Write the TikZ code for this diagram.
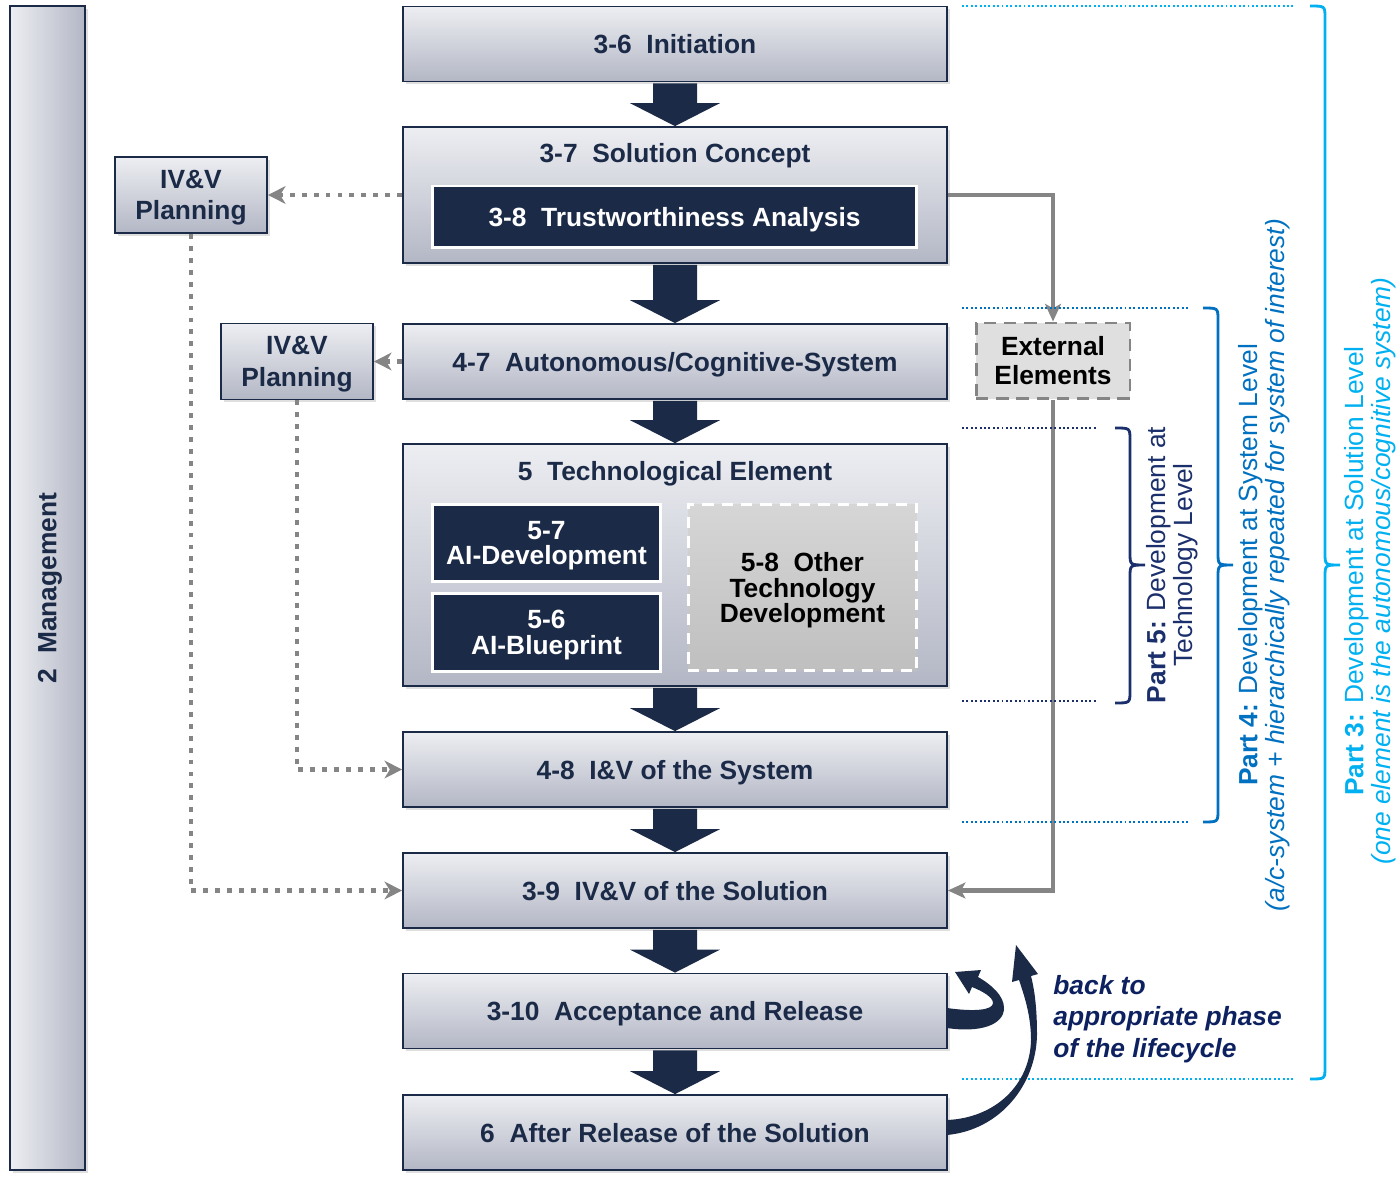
\documentclass[tikz,border=0pt]{standalone}
\usepackage{fontspec}
\setmainfont{Liberation Sans}
\usetikzlibrary{arrows.meta,calc,shadows}

\definecolor{navy}{HTML}{1B2A47}
\definecolor{boxtop}{HTML}{EDEEF2}
\definecolor{boxbot}{HTML}{B3B7C5}
\definecolor{othertop}{HTML}{D6D6D6}
\definecolor{otherbot}{HTML}{BFBFBF}
\definecolor{extfill}{HTML}{DFDFDF}
\definecolor{linegray}{HTML}{858585}
\definecolor{partc}{HTML}{00B0F0}
\definecolor{partb}{HTML}{0070C0}
\definecolor{parta}{HTML}{1A2F6B}
\definecolor{backblue}{HTML}{0D2160}

\tikzset{
  phase/.style={draw=navy, line width=1pt, top color=boxtop, bottom color=boxbot,
    text=navy, font=\bfseries\fontsize{15}{18}\selectfont, align=center,
    minimum width=10.88cm, minimum height=1.5cm, inner sep=0pt, text depth=0pt,
    drop shadow={shadow xshift=1.6pt, shadow yshift=-1.6pt, opacity=0.25}},
  planbox/.style={phase, minimum width=3.04cm, minimum height=1.52cm},
  mgmtbar/.style={draw=navy, line width=1pt, left color=boxtop, right color=boxbot,
    minimum width=1.5cm, minimum height=23.28cm, inner sep=0pt,
    drop shadow={shadow xshift=1.6pt, shadow yshift=-1.6pt, opacity=0.25}},
  innerbox/.style={draw=white, line width=1.7pt, fill=navy, text=white,
    font=\bfseries\fontsize{15}{14.5}\selectfont, align=center, inner sep=0pt,
    text depth=0pt, minimum width=4.58cm, minimum height=1.55cm},
  otherbox/.style={draw=white, line width=1.7pt, dash pattern=on 6.5pt off 4.5pt,
    top color=othertop, bottom color=otherbot, text=black,
    font=\bfseries\fontsize{15}{14.5}\selectfont, align=center, inner sep=0pt,
    text depth=0pt, minimum width=4.58cm, minimum height=3.34cm},
  extbox/.style={draw=linegray, line width=1.7pt, dash pattern=on 7pt off 4.5pt,
    fill=extfill, text=black, font=\bfseries\fontsize{15}{16.5}\selectfont,
    align=center, inner sep=0pt, minimum width=3.08cm, minimum height=1.52cm},
  titletext/.style={text=navy, font=\bfseries\fontsize{15}{18}\selectfont, inner sep=0pt},
  parttext/.style={rotate=90, align=center, font=\fontsize{15}{15.4}\selectfont, inner sep=0pt},
  backtext/.style={align=left, text=backblue, font=\bfseries\itshape\fontsize{15}{18.1}\selectfont,
    inner sep=0pt},
  guide/.style={line width=1.1pt, dash pattern=on 1.1pt off 1.4pt},
  bracelines/.style={line width=1.6pt},
  ivvline/.style={draw=linegray, line width=2.8pt, dash pattern=on 2.8pt off 4pt,
    -{Stealth[length=10pt, width=10pt, inset=3pt]}},
  extline/.style={draw=linegray, line width=2.8pt,
    -{Stealth[length=10pt, width=9pt, inset=2.5pt]}},
}

\begin{document}
\begin{tikzpicture}[x=0.02cm, y=-0.02cm]
  \useasboundingbox (0,0) rectangle (1396,1182);
  %
  \node[mgmtbar] (mgmt) at (47.5,588) {};                 % management bar
  \node[titletext, rotate=90] (mgmtlabel) at (50,588) {2~~Management};
  %
  \node[phase] (init) at (675,44) {3-6~~Initiation};     % main column
  \node[phase, minimum height=2.72cm] (concept) at (675,195) {};
  \node[titletext] (concepttitle) at (675,156) {3-7~~Solution Concept};
  \node[innerbox, minimum width=9.7cm, minimum height=1.24cm] (trust) at (674.5,217)
    {3-8~~Trustworthiness Analysis};
  \node[phase] (acs) at (675,361.5) {4-7~~Autonomous/Cognitive-System};
  %
  \node[phase, minimum height=4.84cm] (tech) at (675,565) {};   % technology
  \node[titletext] (techtitle) at (675,474) {5~~Technological Element};
  \node[innerbox] (aidev) at (546.5,543) {5-7\\AI-Development};
  \node[innerbox] (aiblue) at (546.5,632.5) {5-6\\AI-Blueprint};
  \node[otherbox] (othertech) at (802.5,587.5) {5-8~~Other\\Technology\\Development};
  %
  \node[phase] (ivsys) at (675,769.5) {4-8~~I\&V of the System};
  \node[phase] (ivsol) at (675,890.5) {3-9~~IV\&V of the Solution};
  \node[phase] (accept) at (675,1011) {3-10~~Acceptance and Release};
  \node[phase] (after) at (675,1132.5) {6~~After Release of the Solution};
  %
  \node[planbox] (plan1) at (191,195) {IV\&V\\Planning};   % planning
  \node[planbox] (plan2) at (297,361.5) {IV\&V\\Planning};
  \node[extbox] (ext) at (1053,361) {External\\Elements};
  %
  \foreach \a/\b in {init/concept, concept/acs, acs/tech, tech/ivsys,
                     ivsys/ivsol, ivsol/accept, accept/after}
    \fill[navy] ($(\a.south)+(-22,1)$) -- ($(\a.south)+(22,1)$) -- ($(\b.north)+(22,-23)$)
      -- ($(\b.north)+(45,-23)$) -- (\b.north) -- ($(\b.north)+(-45,-23)$)
      -- ($(\b.north)+(-22,-23)$) -- cycle;
  %
  \draw[ivvline] (concept.west) -- (plan1.east);          % IV&V links
  \draw[ivvline] (acs.west) -- (plan2.east);
  \draw[ivvline] (plan1.south) |- (ivsol.west);
  \draw[ivvline] (plan2.south) |- (ivsys.west);
  %
  \draw[extline] (concept.east) -| (ext.north);           % external elements
  \draw[extline] (ext.south) |- (ivsol.east);
  %
  \foreach \y/\xb/\c in {6/1295/partc, 1079/1295/partc, 308/1188/partb,
                         822/1188/partb, 428/1097/parta, 701/1097/parta}
    \draw[guide, \c] (962,\y) -- (\xb,\y);
  %
  \foreach \xa/\ya/\yb/\c in {1115/428/703/parta, 1203/308/822/partb, 1310/6/1079/partc}
    \draw[bracelines, \c] (\xa,\ya) .. controls (\xa+15,\ya) .. (\xa+15,\ya+12)
      -- (\xa+15,553) .. controls (\xa+15,565) .. (\xa+30,565)
      .. controls (\xa+15,565) .. (\xa+15,577) -- (\xa+15,\yb-12)
      .. controls (\xa+15,\yb) .. (\xa,\yb);
  %
  \node[parttext, text=parta] (part5) at (1172,565)
    {\textbf{Part 5:} Development at\\Technology Level};
  \node[parttext, text=partb] (part4) at (1264,565)
    {\textbf{Part 4:} Development at System Level\\
     \textit{(a/c-system + hierarchically repeated for system of interest)}};
  \node[parttext, text=partc] (part3) at (1370,571)
    {\textbf{Part 3:} Development at Solution Level\\
     \textit{(one element is the autonomous/cognitive system)}};
  %
  \fill[navy] (947,1008) .. controls (975,1012) and (993,1010) .. (993,1003)   % back arrows
    .. controls (993,997) and (982,991) .. (972,987) -- (969,994) -- (955,972)
    -- (981,970) -- (978,977) .. controls (992,985) and (1004,996) .. (1004,1008)
    .. controls (1004,1025) and (980,1033) .. (947,1028) -- cycle;
  \fill[navy] (947,1120) .. controls (995,1118) and (1030,1085) .. (1031,1040)
    .. controls (1031,1015) and (1024,995) .. (1019,980) -- (1012,982) -- (1016,945)
    -- (1038,974) -- (1031,976) .. controls (1035,992) and (1037,1010) .. (1037,1035)
    .. controls (1036,1085) and (1000,1130) .. (947,1135) -- cycle;
  \node[backtext, anchor=west] (back) at (1053,1019)
    {back to\\appropriate phase\\of the lifecycle};
\end{tikzpicture}
\end{document}
